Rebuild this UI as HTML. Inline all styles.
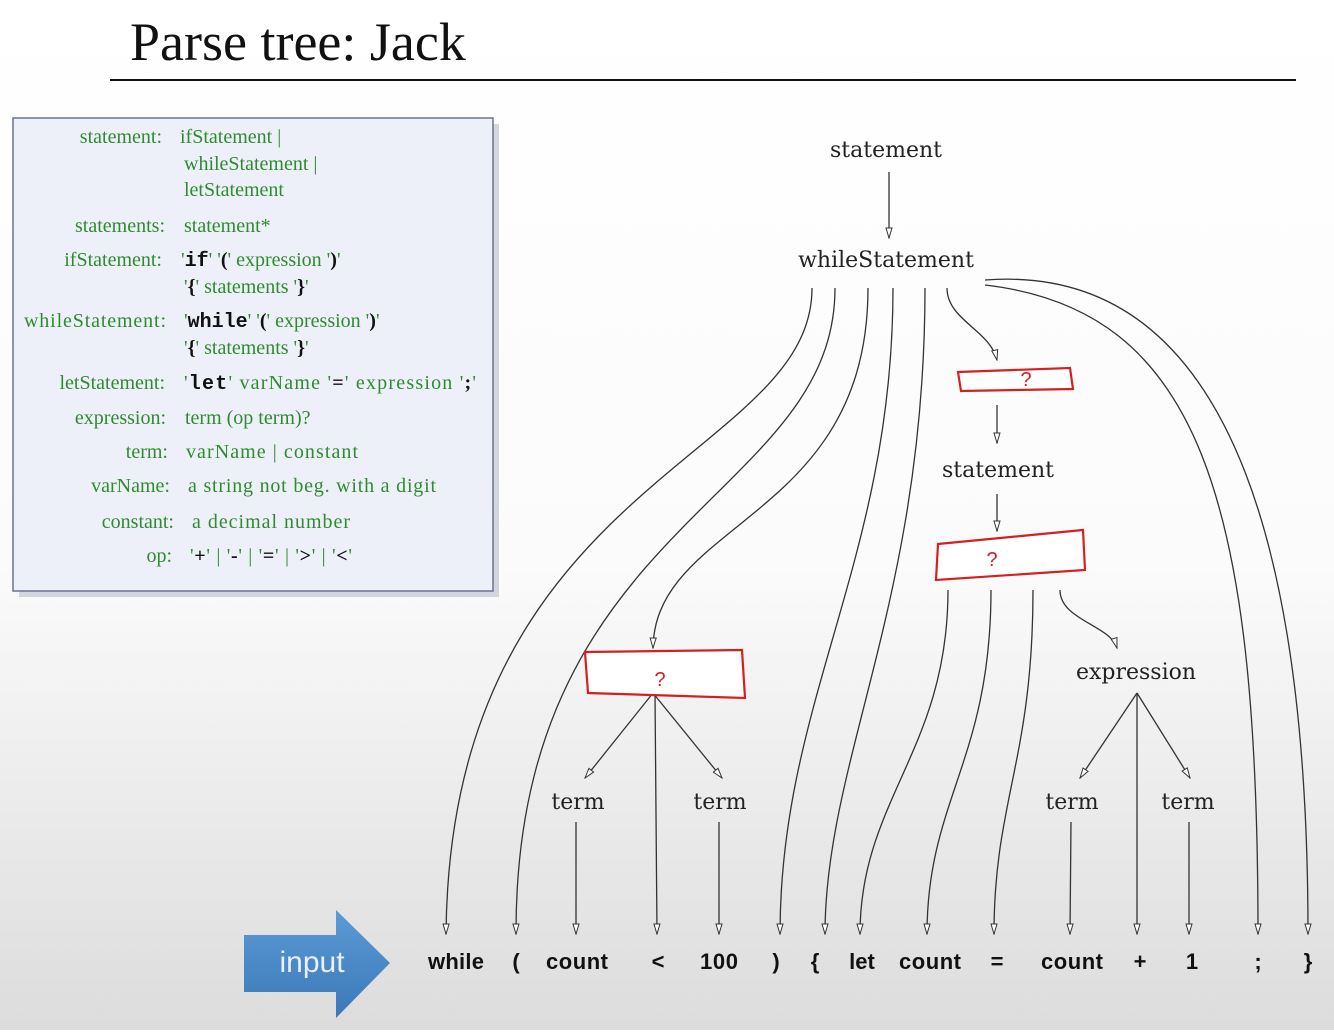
<!DOCTYPE html>
<html><head><style>
body{margin:0;width:1334px;height:1030px;overflow:hidden;background:linear-gradient(#ffffff 0%,#fbfbfb 55%,#dcdcdc 100%);font-family:"Liberation Serif",serif;}
</style></head><body>
<svg width="1334" height="1030" viewBox="0 0 1334 1030" xmlns="http://www.w3.org/2000/svg">
<defs>
<marker id="a" markerWidth="12" markerHeight="8" refX="11" refY="4" orient="auto" markerUnits="userSpaceOnUse" viewBox="0 0 12 8"><path d="M1,1 L11,4 L1,7 Z" fill="#fff" stroke="#333" stroke-width="1"/></marker>
<linearGradient id="bl" x1="0" y1="0" x2="0" y2="1"><stop offset="0" stop-color="#5b9bd5"/><stop offset="1" stop-color="#3c78b8"/></linearGradient>
</defs>
<text x="130" y="60" font-family="Liberation Serif" font-size="54" fill="#111">Parse tree: Jack</text>
<line x1="110" y1="80" x2="1296" y2="80" stroke="#111" stroke-width="2"/>
<rect x="19" y="124" width="480" height="473" fill="#b8bccc" opacity="0.6"/>
<rect x="13" y="118" width="480" height="473" fill="#eef0f9" stroke="#6c7290" stroke-width="1.5"/>
<g font-family="Liberation Serif" font-size="20" fill="#2e8b2e">
<g text-anchor="end">
<text x="162" y="143">statement:</text>
<text x="165" y="232">statements:</text>
<text x="162" y="266">ifStatement:</text>
<text x="166" y="327" textLength="142">whileStatement:</text>
<text x="165" y="389">letStatement:</text>
<text x="166" y="424">expression:</text>
<text x="168" y="458">term:</text>
<text x="170" y="492">varName:</text>
<text x="174" y="528">constant:</text>
<text x="172" y="562">op:</text>
</g>
<text x="180" y="143">ifStatement |</text>
<text x="184" y="170">whileStatement |</text>
<text x="184" y="196">letStatement</text>
<text x="184" y="232">statement*</text>
<text x="181" y="266">'<tspan font-family="Liberation Mono" font-weight="bold" fill="#111">if</tspan>'  '<tspan font-weight="bold" fill="#111">(</tspan>' expression '<tspan font-weight="bold" fill="#111">)</tspan>'</text>
<text x="184" y="293">'<tspan font-weight="bold" fill="#111">{</tspan>' statements '<tspan font-weight="bold" fill="#111">}</tspan>'</text>
<text x="184" y="327">'<tspan font-family="Liberation Mono" font-weight="bold" fill="#111">while</tspan>'  '<tspan font-weight="bold" fill="#111">(</tspan>' expression '<tspan font-weight="bold" fill="#111">)</tspan>'</text>
<text x="184" y="354">'<tspan font-weight="bold" fill="#111">{</tspan>' statements '<tspan font-weight="bold" fill="#111">}</tspan>'</text>
<text x="184" y="389" textLength="292">'<tspan font-family="Liberation Mono" font-weight="bold" fill="#111">let</tspan>' varName '<tspan font-weight="bold" fill="#111">=</tspan>' expression '<tspan font-weight="bold" fill="#111">;</tspan>'</text>
<text x="185" y="424">term (op term)?</text>
<text x="186" y="458" textLength="172">varName | constant</text>
<text x="188" y="492" textLength="248">a string not beg. with a digit</text>
<text x="192" y="528" textLength="158">a decimal number</text>
<text x="190" y="562" textLength="162">'<tspan font-weight="bold" fill="#111">+</tspan>' | '<tspan font-weight="bold" fill="#111">-</tspan>' | '<tspan font-weight="bold" fill="#111">=</tspan>' | '<tspan font-weight="bold" fill="#111">&gt;</tspan>' | '<tspan font-weight="bold" fill="#111">&lt;</tspan>'</text>
</g>

<g font-family="DejaVu Serif, Liberation Serif, serif" font-size="22" fill="#222" text-anchor="middle">
<text x="886" y="157">statement</text>
<text x="886" y="267">whileStatement</text>
<text x="998" y="477">statement</text>
<text x="1136" y="679">expression</text>
<text x="578" y="809">term</text>
<text x="720" y="809">term</text>
<text x="1072" y="809">term</text>
<text x="1188" y="809">term</text>
</g>

<g fill="none" stroke="#333" stroke-width="1.3" marker-end="url(#a)">
<path d="M889,172 L889,238"/>
<path d="M812,288 C812,460 450,480 446,934"/>
<path d="M835,288 C835,500 515,520 516,934"/>
<path d="M868,288 C868,520 655,520 653,648"/>
<path d="M893,288 C893,560 780,700 780,934"/>
<path d="M925,288 C925,600 825,760 825,934"/>
<path d="M947,288 C947,320 990,330 997,360"/>
<path d="M985,285 C1200,310 1258,500 1258,934"/>
<path d="M985,280 C1250,260 1308,600 1308,934"/>
<path d="M997,405 L997,443"/>
<path d="M997,494 L997,531"/>
<path d="M948,590 C948,750 860,800 860,934"/>
<path d="M991,590 C991,760 927,800 927,934"/>
<path d="M1033,590 C1033,760 994,800 994,934"/>
<path d="M1060,590 C1060,620 1110,625 1117,648"/>
<path d="M1137,693 L1080,778"/>
<path d="M1137,693 L1190,778"/>
<path d="M1137,693 L1137,934"/>
<path d="M653,693 L585,778"/>
<path d="M653,693 L722,778"/>
<path d="M655,693 L657,934"/>
<path d="M576,822 L576,934"/>
<path d="M719,822 L719,934"/>
<path d="M1071,822 L1070,934"/>
<path d="M1189,822 L1189,934"/>
</g>

<g fill="#fff" stroke="#d42020" stroke-width="2.2">
<path d="M958,372 L1070,368 L1073,389 L961,391 Z"/>
<path d="M938,544 L1083,530 L1085,570 L936,580 Z"/>
<path d="M585,652 L742,650 L745,698 L588,693 Z"/>
</g>
<g font-family="Liberation Sans" font-size="20" fill="#d42020" text-anchor="middle">
<text x="1026" y="386">?</text>
<text x="992" y="566">?</text>
<text x="660" y="686">?</text>
</g>

<path d="M244,935 L336,935 L336,910 L390,963 L336,1018 L336,992 L244,992 Z" fill="url(#bl)"/>
<text x="312" y="972" font-family="Liberation Sans" font-size="30" fill="#e8f0fa" text-anchor="middle">input</text>
<g font-family="Liberation Sans" font-weight="bold" font-size="22" fill="#111" text-anchor="middle">
<text x="456" y="969" textLength="56">while</text>
<text x="516" y="969">(</text>
<text x="577" y="969" textLength="62">count</text>
<text x="658" y="969">&lt;</text>
<text x="719" y="969" textLength="38">100</text>
<text x="776" y="969">)</text>
<text x="815" y="969">{</text>
<text x="862" y="969">let</text>
<text x="930" y="969" textLength="62">count</text>
<text x="997" y="969">=</text>
<text x="1072" y="969" textLength="62">count</text>
<text x="1140" y="969">+</text>
<text x="1192" y="969">1</text>
<text x="1258" y="969">;</text>
<text x="1308" y="969">}</text>
</g>
</svg>
</body></html>
